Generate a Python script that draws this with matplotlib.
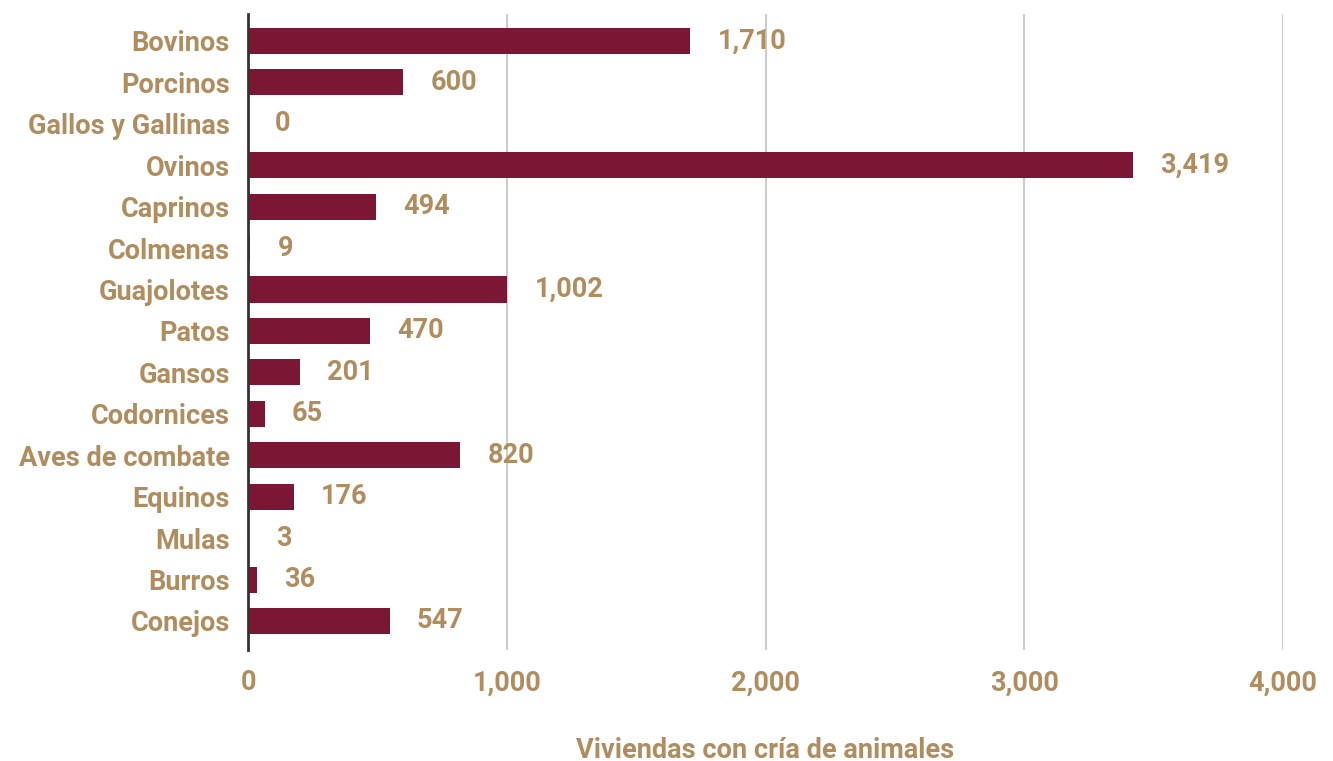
import matplotlib
matplotlib.use("Agg")
import matplotlib.pyplot as plt
from matplotlib.ticker import FuncFormatter

categories = ["Bovinos", "Porcinos", "Gallos y Gallinas", "Ovinos", "Caprinos", "Colmenas",
              "Guajolotes", "Patos", "Gansos", "Codornices", "Aves de combate", "Equinos",
              "Mulas", "Burros", "Conejos"]
values = [1710, 600, 0, 3419, 494, 9, 1002, 470, 201, 65, 820, 176, 3, 36, 547]
xticks = [0, 1000, 2000, 3000, 4000]
xlabel = "Viviendas con cría de animales"

BAR = "#7B1734"
TXT = "#B08D5E"
FS = 19.5
plt.rcParams['font.family'] = ['Roboto', 'DejaVu Sans']
plt.rcParams['font.weight'] = 'bold'

fig = plt.figure(figsize=(13.33, 7.61), dpi=100)
ax = fig.add_axes([248/1333, 1-650/761, (1283-248)/1333, (650-14)/761])

y = list(range(len(categories)))
ax.barh(y, values, height=0.63, color=BAR, zorder=3)
for yi, v in zip(y, values):
    ax.text(v + 105, yi, f"{v:,}", va='center', ha='left', color=TXT,
            fontsize=FS, fontweight='bold', zorder=4)

ax.set_yticks(y)
ax.set_yticklabels(categories, color=TXT, fontsize=FS, fontweight='bold')
ax.set_ylim(14.7, -0.65)
ax.set_xlim(0, 4000)
ax.set_xticks(xticks)
ax.xaxis.set_major_formatter(FuncFormatter(lambda v, p: f"{int(v):,}"))
for lab in ax.get_xticklabels():
    lab.set_color(TXT); lab.set_fontsize(FS); lab.set_fontweight('bold')
ax.tick_params(axis='y', length=0, pad=13)
ax.tick_params(axis='x', length=0, pad=14)
ax.grid(axis='x', color='#CCCCCC', linewidth=1.5, zorder=0)
for s in ['top', 'right', 'bottom']:
    ax.spines[s].set_visible(False)
ax.spines['left'].set_color('#333333')
ax.spines['left'].set_linewidth(2)
ax.spines['left'].set_zorder(5)
fig.text((248 + 1283) / 2 / 1333, 1 - 750 / 761, xlabel, color=TXT, fontsize=FS,
         fontweight='bold', ha='center', va='center')

fig.savefig("out.png", dpi=100, facecolor='white')
